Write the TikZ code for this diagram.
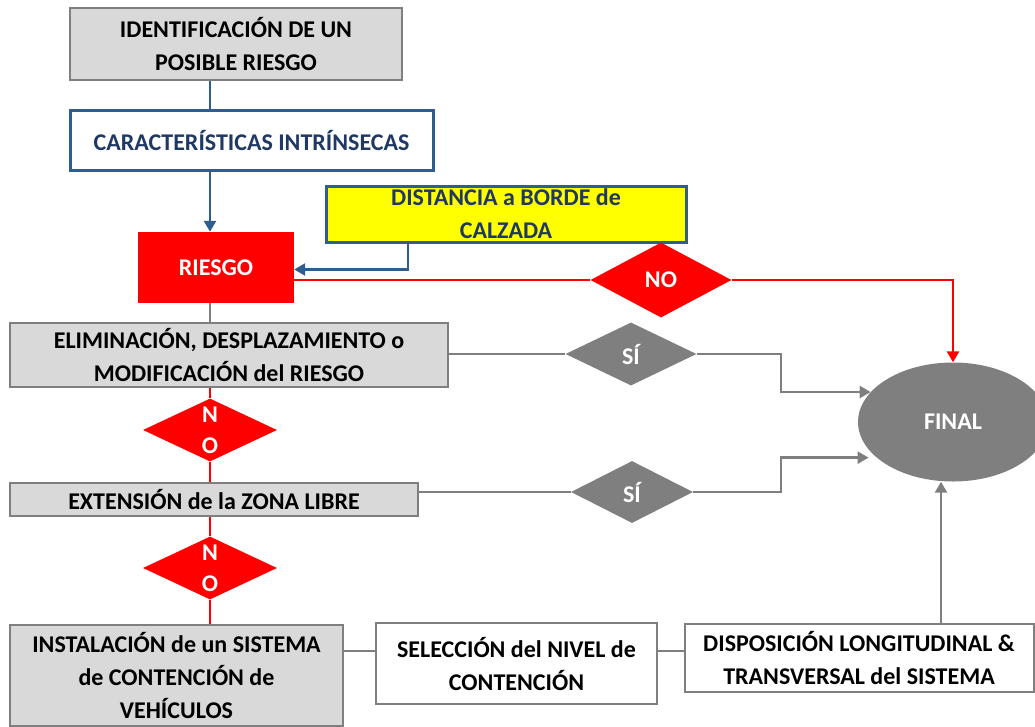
\documentclass[tikz,border=0pt]{standalone}
\usepackage{fontspec}
\setmainfont{Carlito}
\usetikzlibrary{shapes.geometric,arrows.meta}
\definecolor{cgray}{RGB}{127,127,127}
\definecolor{lgray}{RGB}{217,217,217}
\definecolor{cblue}{RGB}{46,94,143}
\definecolor{tblue}{RGB}{31,56,100}
\definecolor{cred}{RGB}{255,0,0}
\definecolor{cyel}{RGB}{255,255,0}
\begin{document}
\begin{tikzpicture}[x=1pt,y=-1pt,
  every node/.style={font=\fontsize{24}{33}\selectfont\bfseries, align=center, inner sep=0pt},
  graybox/.style={draw=cgray, fill=lgray, line width=2.5pt, rectangle},
  whitebox/.style={draw=cgray, fill=white, line width=2pt, rectangle},
  bluebox/.style={draw=cblue, line width=3pt, rectangle, text=tblue},
  redbox/.style={fill=cred, rectangle, text=white},
  nodiam/.style={diamond, fill=cred, text=white},
  sidiam/.style={diamond, fill=cgray, text=white},
  blueline/.style={draw=cblue, line width=2.5pt},
  redline/.style={draw=cred, line width=2.5pt},
  grayline/.style={draw=cgray, line width=2.5pt},
  arr/.style={-{Triangle[length=11pt,width=12pt]}}
]
\useasboundingbox (0,0) rectangle (1035,726);
\coordinate (col) at (210,0);
\coordinate (dx) at (408,0);
\coordinate (bx) at (781,0);
\coordinate (ax) at (941,0);
\coordinate (ly) at (0,651);

\node[graybox, minimum width=332pt, minimum height=72pt] (b1) at (236,44) {IDENTIFICACIÓN DE UN\\POSIBLE RIESGO};
\node[bluebox, fill=white, minimum width=363pt, minimum height=60pt] (b2) at (251.5,140) {CARACTERÍSTICAS INTRÍNSECAS};
\node[bluebox, fill=cyel, minimum width=360pt, minimum height=56pt] (b3) at (506,214) {DISTANCIA a BORDE de\\CALZADA};
\node[redbox, minimum width=156pt, minimum height=71pt] (riesgo) at (216,267.5) {RIESGO};
\node[nodiam, minimum width=141pt, minimum height=75pt] (no1) at (661,280) {NO};
\node[graybox, minimum width=438pt, minimum height=64pt] (elim) at (229,355) {ELIMINACIÓN, DESPLAZAMIENTO o\\MODIFICACIÓN del RIESGO};
\node[sidiam, minimum width=131pt, minimum height=63pt] (si1) at (631,354) {SÍ};
\node[ellipse, fill=cgray, text=white, minimum width=190pt, minimum height=119pt] (final) at (953,422) {FINAL};
\node[nodiam, minimum width=134pt, minimum height=62pt] (no2) at (210,430) {N\\[-2pt]O};
\node[graybox, minimum width=408pt, minimum height=33pt] (ext) at (214,499.5) {EXTENSIÓN de la ZONA LIBRE};
\node[sidiam, minimum width=122pt, minimum height=62pt] (si2) at (632,492) {SÍ};
\node[nodiam, minimum width=134pt, minimum height=57pt] (no3) at (210,568) {N\\[-2pt]O};
\node[graybox, line width=2pt, minimum width=333pt, minimum height=101pt] (inst) at (176.5,675) {INSTALACIÓN de un SISTEMA\\de CONTENCIÓN de\\VEHÍCULOS};
\node[whitebox, minimum width=281pt, minimum height=81pt] (sel) at (516.5,663.5) {SELECCIÓN del NIVEL de\\CONTENCIÓN};
\node[whitebox, minimum width=349pt, minimum height=68pt] (disp) at (859,658) {DISPOSICIÓN LONGITUDINAL \&\\TRANSVERSAL del SISTEMA};

\draw[blueline] (b1.south -| col) -- (b2.north -| col);
\draw[blueline, arr] (b2.south -| col) -- (riesgo.north -| col);
\draw[blueline, arr] (b3.south -| dx) |- ([yshift=-2pt]riesgo.east);
\draw[redline] (riesgo.east |- no1.west) -- (no1.west);
\draw[redline, arr] (no1.east) -| (final.north);
\draw[grayline] (riesgo.south -| col) -- (elim.north -| col);
\draw[grayline] (elim.east |- si1.west) -- (si1.west);
\draw[grayline, arr] (si1.east) -- (si1.east -| bx) |- (final.160);
\draw[redline] (elim.south -| col) -- (no2.north);
\draw[redline] (no2.south) -- (ext.north -| col);
\draw[grayline] (ext.east |- si2.west) -- (si2.west);
\draw[grayline, arr, shorten >=8pt] (si2.east) -- (si2.east -| bx) |- (final.205.5);
\draw[redline] (ext.south -| col) -- (no3.north);
\draw[redline] (no3.south) -- (inst.north -| col);
\draw[grayline, line width=2pt] (inst.east |- ly) -- (sel.west |- ly);
\draw[grayline, line width=2pt] (sel.east |- ly) -- (disp.west |- ly);
\draw[grayline, arr] (disp.north -| ax) -- (final.south -| ax);
\end{tikzpicture}
\end{document}
